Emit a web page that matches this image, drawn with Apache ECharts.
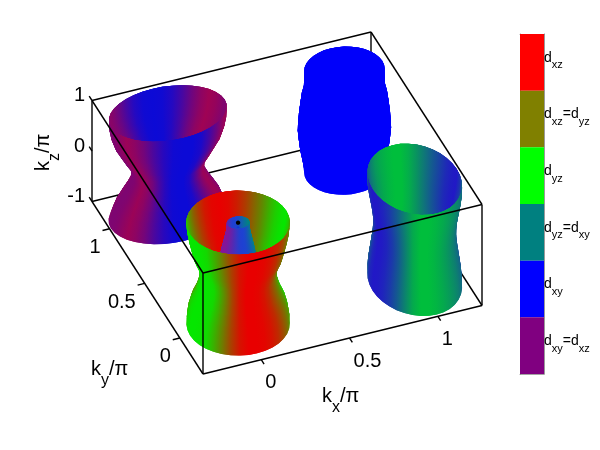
<!DOCTYPE html>
<html><head><meta charset="utf-8">
<style>html,body{margin:0;padding:0;background:#fff}#c{width:600px;height:450px}</style>
<script src="https://cdn.jsdelivr.net/npm/echarts@6/dist/echarts.min.js"></script>
</head><body><div id="c"></div>
<script>
// ---- axis ranges and ticks (units of pi) ----
const kxRange = [-0.33, 1.25];
const kyRange = [-0.33, 1.25];
const kzRange = [-1, 1];
const kxTicks = [0, 0.5, 1];
const kyTicks = [0, 0.5, 1];
const kzTicks = [-1, 0, 1];
// ---- sampled levels and angles of the Fermi-surface sheets ----
const kzLevels = [-1,-5/6,-4/6,-3/6,-2/6,-1/6,0,1/6,2/6,3/6,4/6,5/6,1];
const thetaDeg = [-180,-170,-160,-150,-140,-130,-120,-110,-100,-90,-80,-70,-60,-50,-40,-30,-20,-10,0,10,20,30,40,50,60,70,80,90,100,110,120,130,140,150,160,170];
// ---- radii along kx / ky at each kz level ----
const gammaOuterRx = [.272,.270,.262,.248,.225,.209,.201,.211,.233,.246,.258,.268,.273];
const gammaOuterRy = [.272,.270,.262,.248,.225,.209,.201,.211,.233,.246,.258,.268,.273];
const gammaInnerRx = [.062,.065,.076,.087,.095,.105,.110,.105,.097,.087,.076,.065,.061];
const gammaInnerRy = [.060,.063,.074,.085,.092,.102,.107,.102,.094,.084,.070,.057,.053];
const yPocketRx = [.322,.306,.286,.256,.224,.198,.200,.232,.262,.291,.309,.319,.322];
const yPocketRy = [.240,.220,.202,.180,.157,.139,.140,.162,.183,.204,.216,.223,.225];
const xPocketRx = [.238,.237,.233,.226,.219,.212,.208,.209,.214,.222,.231,.237,.238];
const xPocketRy = [.313,.312,.306,.297,.288,.279,.274,.275,.282,.292,.304,.312,.313];
const mPocketRx = [.214,.218,.227,.237,.243,.248,.246,.242,.236,.229,.216,.214,.214];
const mPocketRy = [.199,.203,.211,.220,.226,.231,.229,.225,.219,.213,.201,.199,.199];
// ---- orbital mix at each angle ----
const gammaOuterMix = [.02,.02,.04,.08,.25,.47,.72,.92,1,1,.98,.92,.82,.68,.55,.42,.3,.15,.02,.05,.12,.25,.42,.58,.75,.88,.97,1,.98,.9,.75,.58,.4,.24,.12,.05];
const gammaInnerMix = [0,.02,.06,.12,.18,.26,.34,.42,.48,.5,.52,.58,.66,.74,.82,.88,.94,.98,1,.98,.94,.88,.82,.74,.66,.58,.52,.5,.48,.42,.34,.26,.18,.12,.06,.02];
const yPocketMix = [.55,.57,.62,.68,.62,.5,.32,.16,.05,.03,.03,.1,.28,.46,.6,.68,.66,.6,.55,.6,.66,.7,.62,.48,.3,.14,.05,.03,.05,.14,.3,.45,.55,.6,.58,.55];
const xPocketMix = [.05,.06,.12,.24,.42,.65,.88,1,1,.95,.88,.8,.72,.64,.56,.5,.4,.2,.05,.08,.15,.28,.42,.58,.75,.9,1,1,.95,.88,.78,.65,.5,.38,.25,.12];
// ---- colour-bar legend ----
const legendLabels = ['{d|d}{s|xz}','{d|d}{s|xz}{d|=d}{s|yz}','{d|d}{s|yz}','{d|d}{s|yz}{d|=d}{s|xy}','{d|d}{s|xy}','{d|d}{s|xy}{d|=d}{s|xz}'];
const legendColors = ['#ff0000','#808000','#00ff00','#008080','#0000ff','#800080'];

const pockets = [
  {cx:0, cy:0, rx:gammaOuterRx, ry:gammaOuterRy, mix:gammaOuterMix, stops:[[0,235,0],[232,0,0]]},
  {cx:0, cy:0, rx:gammaInnerRx, ry:gammaInnerRy, mix:gammaInnerMix, stops:[[135,20,150],[30,65,210],[0,135,125]]},
  {cx:0, cy:1, rx:yPocketRx, ry:yPocketRy, mix:yPocketMix, stops:[[5,10,220],[225,0,25]]},
  {cx:1, cy:0, rx:xPocketRx, ry:xPocketRy, mix:xPocketMix, stops:[[35,15,205],[0,190,60]]},
  {cx:1, cy:1, rx:mPocketRx, ry:mPocketRy, mix:null, stops:[[0,0,250]]}
];

function project(kx, ky, kz) {
  const tx = (kx - kxRange[0]) / (kxRange[1] - kxRange[0]);
  const ty = (ky - kyRange[0]) / (kyRange[1] - kyRange[0]);
  const tz = (kz - kzRange[0]) / (kzRange[1] - kzRange[0]);
  return [203 + 279 * tx - 111 * ty, 374 - 68.5 * tx - 172.5 * ty - 101 * tz];
}
function mixColor(stops, m) {
  if (stops.length === 1) return stops[0];
  const p = m * (stops.length - 1), i = Math.min(Math.floor(p), stops.length - 2), f = p - i;
  return stops[i].map((c, k) => c + (stops[i + 1][k] - c) * f);
}
const css = c => 'rgb(' + c.map(Math.round).join(',') + ')';

// Every cell also reaches over its next neighbours, with the colours they have,
// so that no seam shows between cells drawn one over the other.
const cells = [];
pockets.forEach(pk => {
  const n = thetaDeg.length, top = kzLevels.length - 1;
  const vert = (i, j) => {
    const ii = (i + n) % n, t = thetaDeg[ii] * Math.PI / 180;
    return [pk.cx + pk.rx[j] * Math.cos(t), pk.cy + pk.ry[j] * Math.sin(t), kzLevels[j]];
  };
  const col = i => css(mixColor(pk.stops, pk.mix ? pk.mix[(i + n) % n] : 0));
  const scr = (i, j) => project(...vert(i, j));
  for (let j = 0; j < top; j++) for (let i = 0; i < n; i++) {
    const j1 = j + 1, j2 = Math.min(j + 2, top);
    const q = [vert(i, j), vert(i + 1, j), vert(i + 1, j1), vert(i, j1)];
    const depth = q.reduce((s, p) => s - 0.4 * p[0] - p[1] + 2.5 * p[2], 0);
    const pts = [scr(i,j), scr(i+1,j), scr(i+2,j)];
    if (j2 > j1) pts.push(scr(i+2,j1));
    pts.push(scr(i+2,j2), scr(i+1,j2), scr(i,j2));
    if (j2 > j1) pts.push(scr(i,j1));
    // gradient runs across the column edge i+1 of this cell
    const a = scr(i+1,j), b = scr(i+1,j1);
    let nx = b[1]-a[1], ny = a[0]-b[0]; const nl = Math.hypot(nx,ny)||1; nx/=nl; ny/=nl;
    const m0 = scr(i,j).map((v,k)=>(v+scr(i,j1)[k])/2), m1 = a.map((v,k)=>(v+b[k])/2), m2 = scr(i+2,j).map((v,k)=>(v+scr(i+2,j1)[k])/2);
    const s1 = (m1[0]-m0[0])*nx+(m1[1]-m0[1])*ny, s2 = (m2[0]-m0[0])*nx+(m2[1]-m0[1])*ny;
    let start = m0, L = s2, off = s1/s2;
    if (!(s2*s1 > 0) || off <= 0.02 || off >= 0.98) { L = s1 || 1; off = 1; }
    cells.push({pts, start, end:[start[0]+nx*L, start[1]+ny*L], off, c0:col(i), c1:col(i+1), c2:col(i+2), depth});
  }
});
cells.sort((a, b) => a.depth - b.depth);

const [x0, x1] = kxRange, [y0, y1] = kyRange, [z0, z1] = kzRange;
const backEdges = [
  [[x0,y1,z0],[x1,y1,z0]], [[x1,y1,z0],[x1,y0,z0]], [[x1,y1,z0],[x1,y1,z1]], [[x0,y1,z1],[x1,y1,z1]]
];
const frontEdges = [
  [[x0,y0,z0],[x1,y0,z0]], [[x0,y0,z0],[x0,y1,z0]], [[x0,y1,z0],[x0,y1,z1]],
  [[x0,y0,z0],[x0,y0,z1]], [[x1,y0,z0],[x1,y0,z1]],
  [[x0,y0,z1],[x1,y0,z1]], [[x0,y0,z1],[x0,y1,z1]], [[x1,y0,z1],[x1,y1,z1]]
];
kxTicks.forEach(v => frontEdges.push([[v,y0,z0],[v,y0-0.04,z0]]));
kyTicks.forEach(v => frontEdges.push([[x0,v,z0],[x0-0.04,v,z0]]));
kzTicks.forEach(v => frontEdges.push([[x0,y1,v],[x0,y1+0.04,v]]));

const big = {fontFamily:'Liberation Sans', fontSize:20, fill:'#000'};
const subRich = {
  k:{fontFamily:'Liberation Sans', fontSize:20, lineHeight:20, verticalAlign:'top', fill:'#000'},
  s:{fontFamily:'Liberation Sans', fontSize:16, lineHeight:16, verticalAlign:'top', padding:[14,0,0,0], fill:'#000'}
};
const texts = [];
kxTicks.forEach(v => texts.push({p:[v,y0,z0], dx:4, dy:23, text:String(v), align:'left', va:'middle'}));
kyTicks.forEach(v => texts.push({p:[x0,v,z0], dx:-9, dy:19, text:String(v), align:'right', va:'middle'}));
kzTicks.forEach(v => texts.push({p:[x0,y1,v], dx:-7, dy:-5, text:String(v), align:'right', va:'middle'}));
const titles = [
  {pos:[322,386], text:'{k|k}{s|x}{k|/π}', rot:0},
  {pos:[91,359], text:'{k|k}{s|y}{k|/π}', rot:0},
  {pos:[33,171], text:'{k|k}{s|z}{k|/π}', rot:Math.PI/2}
];

const option = {
  animation:false,
  backgroundColor:'#fff',
  grid:[{left:0,right:0,top:0,bottom:0,containLabel:false},{left:520,top:34,width:24,height:340}],
  xAxis:[
    {type:'value',min:0,max:600,show:false,gridIndex:0},
    {type:'value',min:0,max:1,gridIndex:1,position:'bottom',axisLabel:{show:false},axisTick:{show:false},splitLine:{show:false},axisLine:{show:true,lineStyle:{color:'#666',width:0.6}}},
    {type:'value',min:0,max:1,gridIndex:1,position:'top',axisLabel:{show:false},axisTick:{show:false},splitLine:{show:false},axisLine:{show:true,lineStyle:{color:'#666',width:0.6}}}
  ],
  yAxis:[
    {type:'value',min:0,max:450,inverse:true,show:false,gridIndex:0},
    {type:'category',data:legendLabels,inverse:true,gridIndex:1,position:'right',
      axisLine:{show:true,onZero:false,lineStyle:{color:'#555',width:0.6}},
      axisTick:{show:true,inside:true,alignWithLabel:true,length:3,lineStyle:{color:'#222',width:0.7}},
      axisLabel:{show:true,interval:0,margin:0,align:'left',padding:[0,0,9,0],color:'#000',
        rich:{d:{fontFamily:'Liberation Sans',fontSize:14,lineHeight:14,verticalAlign:'top',color:'#000'},
              s:{fontFamily:'Liberation Sans',fontSize:11,lineHeight:11,verticalAlign:'top',padding:[9,0,0,0],color:'#000'}}}},
    {type:'category',data:legendLabels,inverse:true,gridIndex:1,position:'left',
      axisLine:{show:true,onZero:false,lineStyle:{color:'#555',width:0.6}},
      axisTick:{show:true,inside:true,alignWithLabel:true,length:3,lineStyle:{color:'#222',width:0.7}},
      axisLabel:{show:false}}
  ],
  series:[
    {type:'bar',xAxisIndex:1,yAxisIndex:1,barWidth:'100%',silent:true,z:1,
      data:legendColors.map(c=>({value:1,itemStyle:{color:c}}))},
    {type:'custom',name:'box-back',coordinateSystem:'cartesian2d',xAxisIndex:0,yAxisIndex:0,silent:true,z:2,
      data:backEdges.map((e,i)=>[i,0]),
      renderItem:(params,api)=>{
        const e=backEdges[api.value(0)];
        const a=api.coord(project(...e[0])),b=api.coord(project(...e[1]));
        return {type:'line',shape:{x1:a[0],y1:a[1],x2:b[0],y2:b[1]},style:{stroke:'#000',lineWidth:1.4}};
      }},
    {type:'custom',name:'surfaces',coordinateSystem:'cartesian2d',xAxisIndex:0,yAxisIndex:0,silent:true,z:3,progressive:0,
      data:cells.map((c,i)=>[i,0]),
      renderItem:(params,api)=>{
        const c=cells[api.value(0)];
        const P=c.pts.map(p=>api.coord(p));
        const s=api.coord(c.start),e=api.coord(c.end);
        const stops=c.off<1?[{offset:0,color:c.c0},{offset:c.off,color:c.c1},{offset:1,color:c.c2}]:[{offset:0,color:c.c0},{offset:1,color:c.c1}];
        const fill=new echarts.graphic.LinearGradient(s[0],s[1],e[0],e[1],stops,true);
        return {type:'polygon',shape:{points:P},style:{fill:fill}};
      }},
    {type:'custom',name:'core',coordinateSystem:'cartesian2d',xAxisIndex:0,yAxisIndex:0,silent:true,z:4,
      data:[[0,0,1,2.2],[0,0,0.91,1]],
      renderItem:(params,api)=>{
        const a=api.coord(project(api.value(0),api.value(1),api.value(2)));
        const r=api.value(3);
        return {type:'ellipse',shape:{cx:a[0],cy:a[1],rx:r>2?r:r*1.3,ry:r>2?r:r*.7},style:{fill:params.dataIndex?'#1530e0':'#000'}};
      }},
    {type:'custom',name:'box-front',coordinateSystem:'cartesian2d',xAxisIndex:0,yAxisIndex:0,silent:true,z:5,
      data:frontEdges.map((e,i)=>[i,0]),
      renderItem:(params,api)=>{
        const e=frontEdges[api.value(0)];
        const a=api.coord(project(...e[0])),b=api.coord(project(...e[1]));
        return {type:'line',shape:{x1:a[0],y1:a[1],x2:b[0],y2:b[1]},style:{stroke:'#000',lineWidth:1.4}};
      }},
    {type:'custom',name:'tick-labels',coordinateSystem:'cartesian2d',xAxisIndex:0,yAxisIndex:0,silent:true,z:6,
      data:texts.map((t,i)=>[i,0]),
      renderItem:(params,api)=>{
        const t=texts[api.value(0)];
        const a=api.coord(project(...t.p));
        return {type:'text',x:a[0]+t.dx,y:a[1]+t.dy,style:Object.assign({text:t.text,align:t.align,verticalAlign:t.va},big)};
      }},
    {type:'custom',name:'axis-titles',coordinateSystem:'cartesian2d',xAxisIndex:0,yAxisIndex:0,silent:true,z:6,
      data:titles.map((t,i)=>[i,0]),
      renderItem:(params,api)=>{
        const t=titles[api.value(0)];
        const a=api.coord(t.pos);
        return {type:'text',x:a[0],y:a[1],rotation:t.rot,style:{text:t.text,align:'left',verticalAlign:'top',rich:subRich,fill:'#000'}};
      }}
  ]
};
const chart=echarts.init(document.getElementById('c'),null,{renderer:'canvas'});
chart.setOption(option);
</script></body></html>
